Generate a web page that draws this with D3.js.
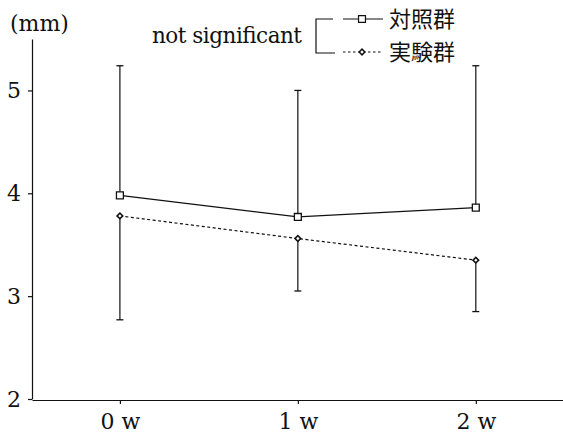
<!DOCTYPE html>
<html>
<head>
<meta charset="utf-8">
<script src="https://cdn.jsdelivr.net/npm/d3@7"></script>
<style>
  body { margin: 0; background: #fff; }
  svg text { fill: #111; }
</style>
</head>
<body>
<div id="chart"></div>
<script>
// weeks on the x axis
const weeks = [0, 1, 2];
const weekLabels = ["0 w", "1 w", "2 w"];

// 対照群 (control) mean and upper error bar
const controlMean = [3.98, 3.77, 3.86];
const controlUpper = [5.24, 5.00, 5.24];

// 実験群 (experiment) mean and lower error bar
const expMean = [3.78, 3.56, 3.35];
const expLower = [2.77, 3.05, 2.85];

const yTicks = [2, 3, 4, 5];

const width = 563, height = 435;
const serif = "'DejaVu Serif', 'Liberation Serif', serif";
const cjk = "'Noto Sans CJK JP', sans-serif";

const svg = d3.select("#chart").append("svg")
  .attr("width", width)
  .attr("height", height);

const x = d3.scaleLinear()
  .domain([-0.494, 2.49])
  .range([32, 563]);
const y = d3.scaleLinear()
  .domain([2, 5.5])
  .range([399, 39]);

// axes
const xAxis = svg.append("g")
  .attr("transform", "translate(0,400)")
  .call(d3.axisBottom(x)
    .tickValues(weeks)
    .tickFormat((d, i) => weekLabels[i])
    .tickSize(4)
    .tickSizeOuter(0)
    .tickPadding(9));
const yAxis = svg.append("g")
  .attr("transform", "translate(32,0)")
  .call(d3.axisLeft(y)
    .tickValues(yTicks)
    .tickFormat(d3.format("d"))
    .tickSize(4)
    .tickSizeOuter(0)
    .tickPadding(7));

[xAxis, yAxis].forEach(g => {
  g.selectAll("path, line").attr("stroke", "#111").attr("stroke-width", 1.2);
  g.selectAll("text")
    .style("font-family", serif)
    .style("font-size", "22px")
    .attr("fill", "#111");
});

svg.append("text")
  .attr("x", 10).attr("y", 31)
  .style("font-family", serif)
  .style("font-size", "22px")
  .text("(mm)");

// error bars
function errorBars(mean, ends, cls) {
  const g = svg.append("g").attr("class", cls);
  g.selectAll("line.v").data(weeks).enter().append("line")
    .attr("x1", d => x(d)).attr("x2", d => x(d))
    .attr("y1", (d, i) => y(mean[i]))
    .attr("y2", (d, i) => y(ends[i]))
    .attr("stroke", "#111").attr("stroke-width", 1.2);
  g.selectAll("line.cap").data(weeks).enter().append("line")
    .attr("x1", d => x(d) - 3.5).attr("x2", d => x(d) + 3.5)
    .attr("y1", (d, i) => y(ends[i]))
    .attr("y2", (d, i) => y(ends[i]))
    .attr("stroke", "#111").attr("stroke-width", 1.3);
}
errorBars(controlMean, controlUpper, "ctrl-err");
errorBars(expMean, expLower, "exp-err");

const line = d3.line()
  .x((d, i) => x(weeks[i]))
  .y(d => y(d));

svg.append("path")
  .datum(controlMean)
  .attr("d", line)
  .attr("fill", "none")
  .attr("stroke", "#111")
  .attr("stroke-width", 1.3);

svg.append("path")
  .datum(expMean)
  .attr("d", line)
  .attr("fill", "none")
  .attr("stroke", "#111")
  .attr("stroke-width", 1.2)
  .attr("stroke-dasharray", "3,2.5");

// markers: open square and small diamond (a square turned 45°)
const square = d3.symbol().type(d3.symbolSquare).size(48);
const diamond = d3.symbol().type(d3.symbolSquare).size(16);

svg.append("g").selectAll("path").data(controlMean).enter()
  .append("path")
  .attr("d", square)
  .attr("transform", (d, i) => `translate(${x(weeks[i])},${y(d)})`)
  .attr("fill", "#fff").attr("stroke", "#111").attr("stroke-width", 1.3);

svg.append("g").selectAll("path").data(expMean).enter()
  .append("path")
  .attr("d", diamond)
  .attr("transform", (d, i) => `translate(${x(weeks[i])},${y(d)}) rotate(45)`)
  .attr("fill", "#fff").attr("stroke", "#111").attr("stroke-width", 1.6);

// legend
const leg = svg.append("g");
leg.append("text")
  .attr("x", 152).attr("y", 43)
  .attr("textLength", 150)
  .style("font-family", serif)
  .style("font-size", "21.5px")
  .text("not significant");

leg.append("path")
  .attr("d", "M333,19H316V53H335")
  .attr("fill", "none").attr("stroke", "#111").attr("stroke-width", 1.2);

leg.append("line")
  .attr("x1", 343).attr("x2", 383).attr("y1", 19).attr("y2", 19)
  .attr("stroke", "#111").attr("stroke-width", 1.2);
leg.append("path")
  .attr("d", square)
  .attr("transform", "translate(362,19)")
  .attr("fill", "#fff").attr("stroke", "#111").attr("stroke-width", 1.2);

leg.append("line")
  .attr("x1", 343).attr("x2", 383).attr("y1", 52).attr("y2", 52)
  .attr("stroke", "#111").attr("stroke-width", 1.1)
  .attr("stroke-dasharray", "2.5,2.5");
leg.append("path")
  .attr("d", diamond)
  .attr("transform", "translate(362,52) rotate(45)")
  .attr("fill", "#fff").attr("stroke", "#111").attr("stroke-width", 1.5);

const legendNames = ["対照群", "実験群"];
leg.selectAll("text.name").data(legendNames).enter()
  .append("text")
  .attr("class", "name")
  .attr("x", 389)
  .attr("y", (d, i) => [19, 52][i])
  .attr("dy", "0.36em")
  .style("font-family", cjk)
  .style("font-size", "22px")
  .text(d => d);
</script>
</body>
</html>
